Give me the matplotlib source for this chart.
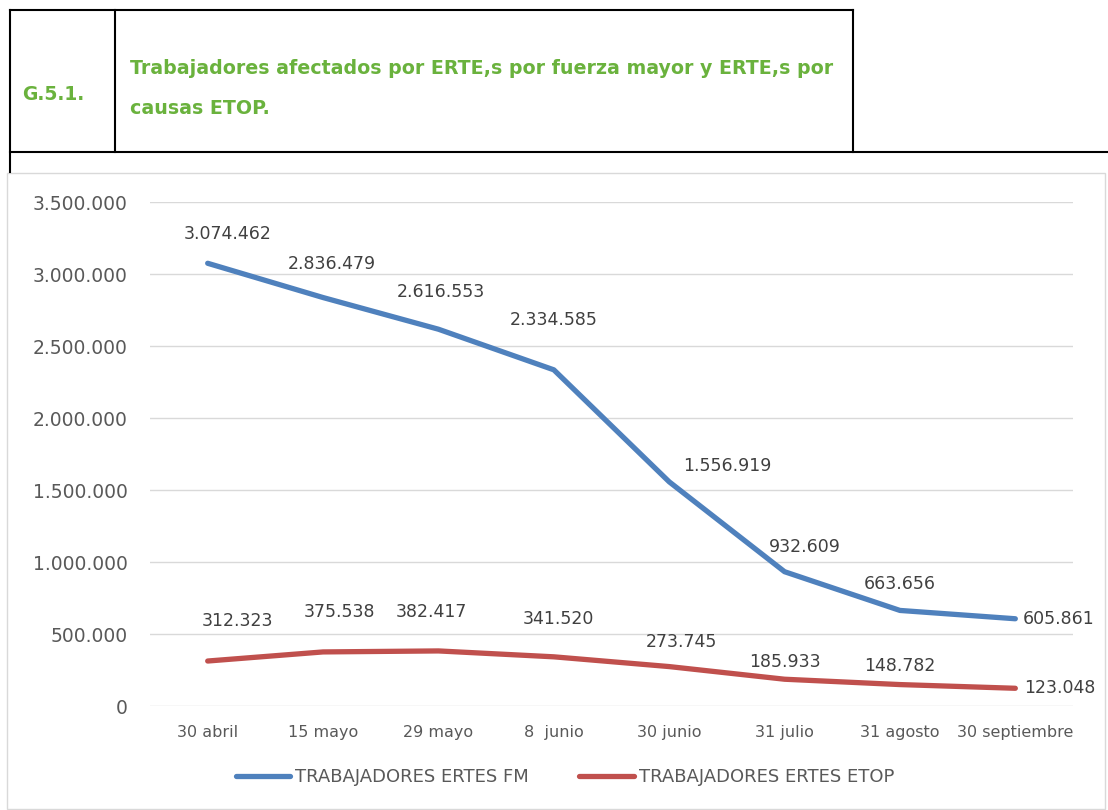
import matplotlib.pyplot as plt
from matplotlib.lines import Line2D
from matplotlib.patches import Rectangle
import numpy as np

fechas = ["30 abril", "15 mayo", "29 mayo", "8  junio", "30 junio",
          "31 julio", "31 agosto", "30 septiembre"]
fm = [3074462, 2836479, 2616553, 2334585, 1556919, 932609, 663656, 605861]
etop = [312323, 375538, 382417, 341520, 273745, 185933, 148782, 123048]
yticks = [0, 500000, 1000000, 1500000, 2000000, 2500000, 3000000, 3500000]

# label offsets in pixels (dx, dy)
off_fm = [(20, 29), (9, 34), (2, 37), (0, 50), (58, 16), (20, 25), (0, 26), (43, 0)]
off_etop = [(30, 40), (16, 40), (-7, 39), (5, 38), (12, 25), (0, 17), (0, 19), (44, 0)]

def miles(v):
    return f"{v:,}".replace(",", ".")

azul = "#4F81BD"
rojo = "#C0504D"
verde = "#6AB23D"
gris = "#595959"
narrow = ["Liberation Sans Narrow", "DejaVu Sans"]

fig = plt.figure(figsize=(11.08, 8.10), dpi=100)

def fx(px):
    return px / 1108

def fy(py):
    return 1 - py / 810

# table header frame
lw = 1.5
for (x0, y0, x1, y1) in [(10, 10, 853, 10), (10, 10, 10, 172), (853, 10, 853, 152),
                         (115, 10, 115, 152), (10, 152, 1108, 152)]:
    fig.add_artist(Line2D([fx(x0), fx(x1)], [fy(y0), fy(y1)], color="black", lw=lw,
                          transform=fig.transFigure))
fig.add_artist(Rectangle((fx(7), fy(809)), fx(1105) - fx(7), fy(173) - fy(809),
                         fill=False, edgecolor="#D9D9D9", lw=1, transform=fig.transFigure))

fig.text(fx(22), fy(95), "G.5.1.", color=verde, fontsize=13.5, fontweight="bold",
         va="center", ha="left")
fig.text(fx(130), fy(69), "Trabajadores afectados por ERTE,s por fuerza mayor y ERTE,s por",
         color=verde, fontsize=13.7, fontweight="bold", va="center", ha="left")
fig.text(fx(130), fy(108), "causas ETOP.", color=verde, fontsize=13.7, fontweight="bold",
         va="center", ha="left")

ax = fig.add_axes([fx(150), fy(706), fx(1073) - fx(150), fy(202) - fy(706)])
x = np.arange(len(fechas))
ax.plot(x, fm, color=azul, lw=3.8, solid_capstyle="round", label="TRABAJADORES ERTES FM")
ax.plot(x, etop, color=rojo, lw=3.8, solid_capstyle="round", label="TRABAJADORES ERTES ETOP")

for xi, v, (dx, dy) in zip(x, fm, off_fm):
    ax.annotate(miles(v), (xi, v), xytext=(dx, dy), textcoords="offset pixels",
                ha="center", va="center", fontsize=12.5, color="#404040")
for xi, v, (dx, dy) in zip(x, etop, off_etop):
    ax.annotate(miles(v), (xi, v), xytext=(dx, dy), textcoords="offset pixels",
                ha="center", va="center", fontsize=12.5, color="#404040")

ax.set_xlim(-0.5, len(fechas) - 0.5)
ax.set_ylim(0, 3500000)
ax.set_yticks(yticks)
ax.set_yticklabels([miles(v) for v in yticks], fontsize=13.5, color=gris)
ax.set_xticks(x)
ax.set_xticklabels(fechas, fontsize=11.5, color=gris, family=narrow)
ax.tick_params(axis="both", length=0)
ax.tick_params(axis="x", pad=14)
ax.tick_params(axis="y", pad=16)
ax.grid(axis="y", color="#D9D9D9", lw=1)
ax.set_axisbelow(True)
for s in ax.spines.values():
    s.set_visible(False)

fig.legend(loc="center", bbox_to_anchor=(fx(565), fy(777)), ncol=2, frameon=False,
           handlelength=3.0, columnspacing=2.8, handletextpad=0.3,
           prop={"family": narrow, "size": 13}, labelcolor=gris)

fig.savefig("out.png", dpi=100)
